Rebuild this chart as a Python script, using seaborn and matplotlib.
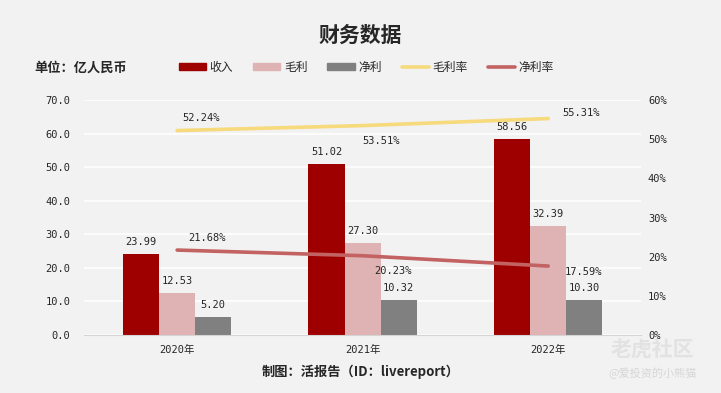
import pandas as pd
import seaborn as sns
import matplotlib.pyplot as plt
from matplotlib.patches import Patch
from matplotlib.lines import Line2D

# data
years = ['2020年', '2021年', '2022年']
revenue = [23.99, 51.02, 58.56]
gross_profit = [12.53, 27.30, 32.39]
net_profit = [5.20, 10.32, 10.30]
gross_margin = [52.24, 53.51, 55.31]
net_margin = [21.68, 20.23, 17.59]
series_names = ['收入', '毛利', '净利']
rate_names = ['毛利率', '净利率']

colors = ['#9e0000', '#dfb3b3', '#808080']
rate_colors = ['#f6da7c', '#c26262']
bg = '#f2f2f2'

df = pd.DataFrame({
    'year': years * 3,
    'value': revenue + gross_profit + net_profit,
    'kind': [series_names[0]] * 3 + [series_names[1]] * 3 + [series_names[2]] * 3,
})

sns.set_style('white')
plt.rcParams['font.family'] = ['DejaVu Sans Mono', 'Noto Sans CJK SC']
cjk = ['Noto Sans CJK SC', 'DejaVu Sans']

fig = plt.figure(figsize=(7.21, 3.93), dpi=100, facecolor=bg)
ax = fig.add_axes([0.117, 0.148, 0.772, 0.597])
ax.set_facecolor(bg)

sns.barplot(data=df, x='year', y='value', hue='kind', palette=colors,
            width=0.585, gap=0, legend=False, ax=ax, saturation=1,
            edgecolor='none', linewidth=0)
ax.set_xlim(-0.5, 2.5)
ax.set_ylim(0, 70)
ax.set_yticks(range(0, 71, 10))
ax.set_yticklabels([f'{v:.1f}' for v in range(0, 71, 10)], fontsize=7.5)
ax.tick_params(axis='x', labelsize=7.5, length=0, pad=7)
ax.tick_params(axis='y', length=0, pad=10)
ax.grid(axis='y', color='white', linewidth=1.2)
ax.set_axisbelow(True)
for s in ['top', 'right', 'left']:
    ax.spines[s].set_visible(False)
ax.spines['bottom'].set_color('#d4d4d4')
ax.set_xlabel('')
ax.set_ylabel('')

for c in ax.containers:
    ax.bar_label(c, fmt='%.2f', padding=5, fontsize=7.5)

ax2 = ax.twinx()
ax2.set_ylim(0, 60)
xs = [0, 1, 2]
sns.lineplot(x=xs, y=gross_margin, color=rate_colors[0], linewidth=2.6, ax=ax2)
sns.lineplot(x=xs, y=net_margin, color=rate_colors[1], linewidth=2.6, ax=ax2)
ax2.set_yticks(range(0, 61, 10))
ax2.set_yticklabels([f'{v}%' for v in range(0, 61, 10)], fontsize=7.5)
ax2.tick_params(axis='y', length=0, pad=5)
for s in ax2.spines.values():
    s.set_visible(False)
ax.set_xlim(-0.5, 2.5)

# line labels
gm_off = [(4, 9), (0, -11), (10, 4)]
nm_off = [(8, 9), (8, -11), (12, -4)]
for i in range(3):
    ax2.annotate(f'{gross_margin[i]:.2f}%', (xs[i], gross_margin[i]), xytext=gm_off[i],
                 textcoords='offset points', fontsize=7.5, ha='left', va='center')
    ax2.annotate(f'{net_margin[i]:.2f}%', (xs[i], net_margin[i]), xytext=nm_off[i],
                 textcoords='offset points', fontsize=7.5, ha='left', va='center')

# texts
fig.text(0.5, 0.91, '财务数据', ha='center', va='center', fontsize=15,
         fontweight='bold', family=cjk)
fig.text(0.048, 0.829, '单位：亿人民币', ha='left', va='center', fontsize=9.5,
         fontweight='bold', family=cjk)
fig.text(0.5, 0.053, '制图：活报告（ID：livereport）', ha='center', va='center',
         fontsize=9.5, fontweight='bold', family=cjk)
fig.text(0.905, 0.108, '老虎社区', ha='center', va='center', fontsize=15,
         fontweight='bold', color='#e2e2e2', family=cjk)
fig.text(0.905, 0.05, '@爱投资的小熊猫', ha='center', va='center', fontsize=8,
         color='#d6d6d6', family=cjk)

handles = [Patch(color=colors[i], label=series_names[i]) for i in range(3)]
handles += [Line2D([], [], color=rate_colors[i], linewidth=2.6, label=rate_names[i]) for i in range(2)]
fig.legend(handles=handles, loc='center', bbox_to_anchor=(0.508, 0.829), ncol=5,
           frameon=False, prop={'family': cjk, 'size': 8.5}, handlelength=2.3,
           handleheight=0.6, columnspacing=1.7, handletextpad=0.3)

fig.savefig('out.png', dpi=100, facecolor=bg)
